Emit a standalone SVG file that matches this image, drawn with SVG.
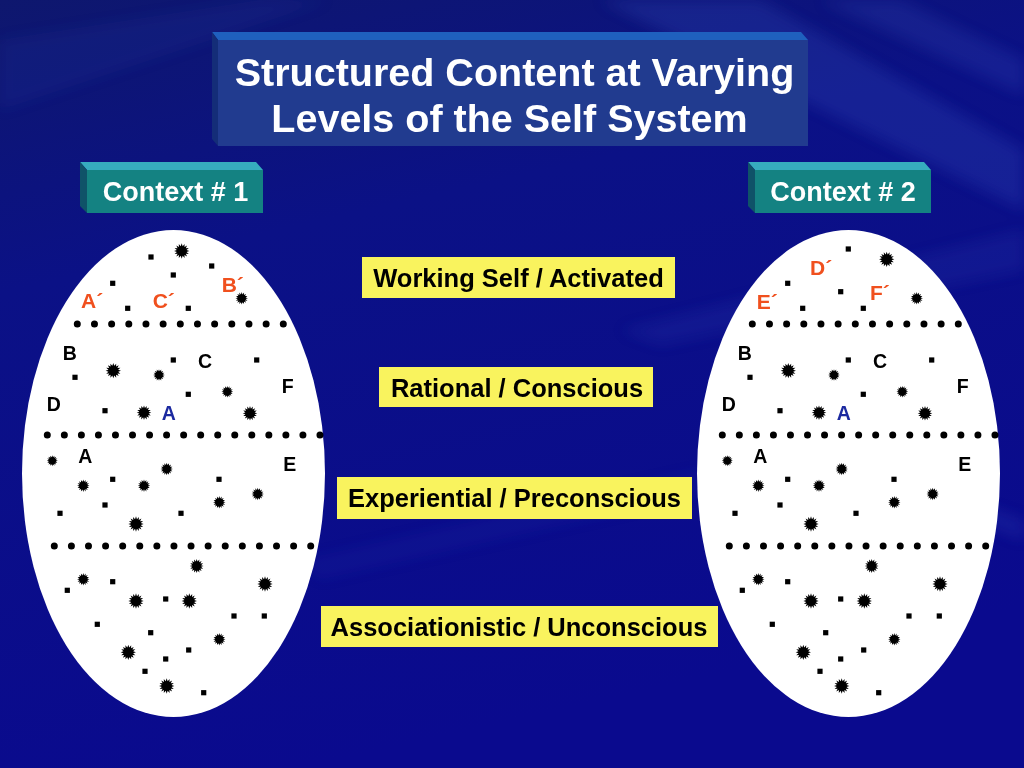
<svg xmlns="http://www.w3.org/2000/svg" xmlns:xlink="http://www.w3.org/1999/xlink" width="1024" height="768" viewBox="0 0 1024 768">
<style>
  .ttl{font-family:"Liberation Sans",Arial,sans-serif;font-weight:bold;fill:#ffffff;font-size:39.5px;text-anchor:middle}
  .ctx{font-family:"Liberation Sans",Arial,sans-serif;font-weight:bold;fill:#ffffff;font-size:27px;text-anchor:middle}
  .lbl{font-family:"Liberation Sans",Arial,sans-serif;font-weight:bold;fill:#000000;font-size:25.5px;text-anchor:middle}
  .ybox{fill:#f9f35e}
  .ltr{font-family:"Liberation Sans",Arial,sans-serif;font-weight:bold;font-size:19.5px;fill:#000000}
  .red{fill:#f0501e;font-size:21px}
  .blu{fill:#1c2aa0}
  .ell{fill:#ffffff}
  .dots{stroke:#000000;stroke-width:7;stroke-linecap:round;fill:none}
  .face{fill:#213b8f}
  .ftop{fill:#1f60be}
  .fside{fill:#142d78}
  .cface{fill:#148282}
  .ctop{fill:#36acbe}
  .cside{fill:#0f5268}
</style>
<defs>
  <linearGradient id="bg" x1="0" y1="0" x2="0.3" y2="1">
    <stop offset="0" stop-color="#0e176e"/>
    <stop offset="0.35" stop-color="#0b1186"/>
    <stop offset="1" stop-color="#0a0a8e"/>
  </linearGradient>
  <filter id="blur" x="-20%" y="-50%" width="140%" height="200%"><feGaussianBlur stdDeviation="7"/></filter>
  <g id="star"><path fill="#000000" transform="scale(1.12)" d="M6.5,0 L4.12,0.82 L6.01,2.49 L3.49,2.33 L4.6,4.6 L2.33,3.49 L2.49,6.01 L0.82,4.12 L0,6.5 L-0.82,4.12 L-2.49,6.01 L-2.33,3.49 L-4.6,4.6 L-3.49,2.33 L-6.01,2.49 L-4.12,0.82 L-6.5,0 L-4.12,-0.82 L-6.01,-2.49 L-3.49,-2.33 L-4.6,-4.6 L-2.33,-3.49 L-2.49,-6.01 L-0.82,-4.12 L0,-6.5 L0.82,-4.12 L2.49,-6.01 L2.33,-3.49 L4.6,-4.6 L3.49,-2.33 L6.01,-2.49 L4.12,-0.82 Z"/></g>
  <rect id="sq" x="-2.6" y="-2.6" width="5.2" height="5.2" fill="#000000"/>
  <g id="levels">
    <line class="dots" x1="77.3" y1="324" x2="284" y2="324" stroke-dasharray="0 17.1667"/>
    <text class="ltr" x="62.7" y="360">B</text>
    <text class="ltr" x="198" y="368.3">C</text>
    <text class="ltr" x="281.7" y="393.3">F</text>
    <text class="ltr" x="46.7" y="410.7">D</text>
    <text class="ltr blu" x="161.7" y="420">A</text>
    <use href="#sq" x="173.3" y="360"/>
    <use href="#sq" x="256.7" y="360"/>
    <use href="#sq" x="75" y="377.3"/>
    <use href="#sq" x="188.3" y="394.3"/>
    <use href="#sq" x="105" y="410.7"/>
    <use href="#star" transform="translate(113.3,370.7) scale(1.05)"/>
    <use href="#star" transform="translate(159,375) scale(0.8)"/>
    <use href="#star" transform="translate(227.3,391.7) scale(0.8)"/>
    <use href="#star" transform="translate(144,412.7) scale(1)"/>
    <use href="#star" transform="translate(250,413.3) scale(1)"/>
    <line class="dots" x1="47.3" y1="435" x2="321" y2="435" stroke-dasharray="0 17.0417"/>
    <text class="ltr" x="78.3" y="462.7">A</text>
    <text class="ltr" x="283.3" y="470.7">E</text>
    <use href="#star" transform="translate(52.3,460.7) scale(0.75)"/>
    <use href="#star" transform="translate(166.7,469) scale(0.85)"/>
    <use href="#star" transform="translate(83.3,485.7) scale(0.85)"/>
    <use href="#star" transform="translate(144,485.7) scale(0.85)"/>
    <use href="#star" transform="translate(257.7,494) scale(0.85)"/>
    <use href="#star" transform="translate(219.3,502.3) scale(0.85)"/>
    <use href="#star" transform="translate(136,524) scale(1.05)"/>
    <use href="#sq" x="112.7" y="479.3"/>
    <use href="#sq" x="219" y="479.3"/>
    <use href="#sq" x="105" y="505"/>
    <use href="#sq" x="60" y="513.3"/>
    <use href="#sq" x="181" y="513.3"/>
    <line class="dots" x1="54.3" y1="546" x2="311.5" y2="546" stroke-dasharray="0 17.0933"/>
    <use href="#star" transform="translate(196.7,566) scale(0.95)"/>
    <use href="#star" transform="translate(83.3,579.3) scale(0.85)"/>
    <use href="#star" transform="translate(265,584) scale(1.05)"/>
    <use href="#star" transform="translate(136,601) scale(1.05)"/>
    <use href="#star" transform="translate(189.3,601) scale(1.05)"/>
    <use href="#star" transform="translate(219.3,639.3) scale(0.85)"/>
    <use href="#star" transform="translate(128.3,652.3) scale(1.05)"/>
    <use href="#star" transform="translate(166.7,686) scale(1.05)"/>
    <use href="#sq" x="112.7" y="581.7"/>
    <use href="#sq" x="67.3" y="590.3"/>
    <use href="#sq" x="165.7" y="599"/>
    <use href="#sq" x="234" y="616"/>
    <use href="#sq" x="264.3" y="616"/>
    <use href="#sq" x="97.3" y="624.3"/>
    <use href="#sq" x="150.7" y="632.7"/>
    <use href="#sq" x="188.7" y="650"/>
    <use href="#sq" x="165.7" y="659"/>
    <use href="#sq" x="145" y="671.3"/>
    <use href="#sq" x="203.7" y="692.7"/>
  </g>
</defs>

<g id="background">
  <rect width="1024" height="768" fill="url(#bg)"/>
  <g filter="url(#blur)" fill="#4a6ad8">
    <polygon points="600,0 760,0 1024,150 1024,210" opacity="0.18"/>
    <polygon points="820,0 900,0 1024,60 1024,95" opacity="0.15"/>
    <polygon points="0,40 260,0 330,0 0,110" opacity="0.08"/>
    <polygon points="620,330 1024,230 1024,270 660,345" opacity="0.1"/>
    <polygon points="880,470 1024,520 1024,540 880,485" opacity="0.15"/>
    <polygon points="300,560 700,470 720,490 320,580" opacity="0.06"/>
  </g>
</g>

<g id="title">
  <polygon class="ftop" points="212,32 801,32 808,40 218,40"/>
  <polygon class="fside" points="212,32 218,40 218,146 212,139"/>
  <rect class="face" x="218" y="40" width="590" height="106"/>
  <text class="ttl" x="514.5" y="86">Structured Content at Varying</text>
  <text class="ttl" x="509.5" y="132">Levels of the Self System</text>
</g>

<g id="context1">
  <polygon class="ctop" points="80,162 256,162 263,170 87,170"/>
  <polygon class="cside" points="80,162 87,170 87,213 80,206"/>
  <rect class="cface" x="87" y="170" width="176" height="43"/>
  <text class="ctx" x="175.5" y="201">Context # 1</text>
</g>

<g id="context2">
  <polygon class="ctop" points="748,162 924,162 931,170 755,170"/>
  <polygon class="cside" points="748,162 755,170 755,213 748,206"/>
  <rect class="cface" x="755" y="170" width="176" height="43"/>
  <text class="ctx" x="843" y="201">Context # 2</text>
</g>

<g id="ellipse1">
  <ellipse class="ell" cx="173.5" cy="473.5" rx="151.5" ry="243.5"/>
  <use href="#sq" x="151" y="257"/>
  <use href="#sq" x="211.7" y="266"/>
  <use href="#sq" x="173.3" y="275"/>
  <use href="#sq" x="112.7" y="283.3"/>
  <use href="#sq" x="127.7" y="308.3"/>
  <use href="#sq" x="188.3" y="308.3"/>
  <use href="#star" transform="translate(181.7,251) scale(1.05)"/>
  <use href="#star" transform="translate(241.7,298.3) scale(0.85)"/>
  <text class="ltr red" x="221.7" y="291.7">B´</text>
  <text class="ltr red" x="81" y="308.3">A´</text>
  <text class="ltr red" x="152.7" y="308.3">C´</text>
  <use href="#levels"/>
</g>

<g id="ellipse2">
  <ellipse class="ell" cx="848.5" cy="473.5" rx="151.5" ry="243.5"/>
  <use href="#sq" x="848.3" y="249"/>
  <use href="#sq" x="787.7" y="283.3"/>
  <use href="#sq" x="840.7" y="291.7"/>
  <use href="#sq" x="802.7" y="308.3"/>
  <use href="#sq" x="863.3" y="308.3"/>
  <use href="#star" transform="translate(886.7,259.3) scale(1.05)"/>
  <use href="#star" transform="translate(916.7,298.3) scale(0.85)"/>
  <text class="ltr red" x="810" y="275">D´</text>
  <text class="ltr red" x="870" y="300">F´</text>
  <text class="ltr red" x="756.7" y="309">E´</text>
  <use href="#levels" x="675"/>
</g>

<g id="level1">
  <rect class="ybox" x="362" y="257" width="313" height="41"/>
  <text class="lbl" x="518.5" y="287">Working Self / Activated</text>
</g>
<g id="level2">
  <rect class="ybox" x="379" y="367" width="274" height="40"/>
  <text class="lbl" x="517" y="397">Rational / Conscious</text>
</g>
<g id="level3">
  <rect class="ybox" x="337" y="477" width="355" height="42"/>
  <text class="lbl" x="514.5" y="507">Experiential / Preconscious</text>
</g>
<g id="level4">
  <rect class="ybox" x="321" y="606" width="397" height="41"/>
  <text class="lbl" x="519" y="636">Associationistic / Unconscious</text>
</g>
</svg>
